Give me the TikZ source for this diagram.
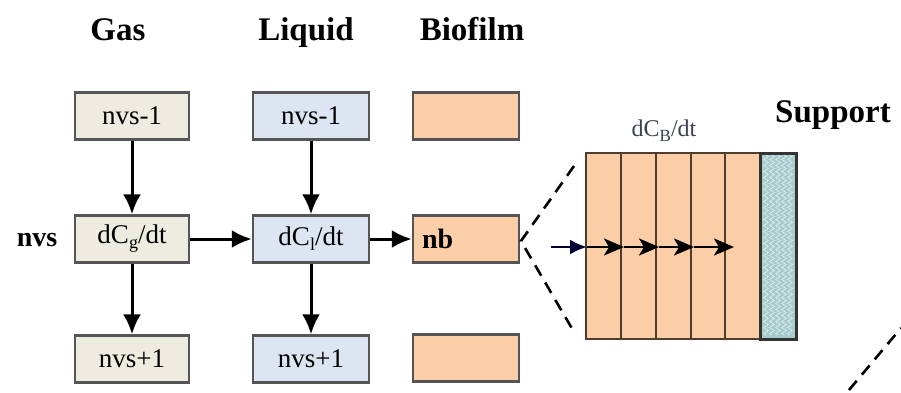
\documentclass[tikz,border=0pt]{standalone}
\usepackage{fontspec}
\setmainfont{Liberation Serif}
\usetikzlibrary{arrows.meta,decorations.pathmorphing}
\definecolor{gasfill}{RGB}{238,235,224}
\definecolor{liqfill}{RGB}{221,229,243}
\definecolor{biofill}{RGB}{251,206,168}
\definecolor{boxline}{RGB}{85,85,85}
\definecolor{layline}{RGB}{80,62,45}
\definecolor{supfill}{RGB}{168,204,206}
\definecolor{labcol}{RGB}{60,65,80}
\begin{document}
\begin{tikzpicture}[x=1pt,y=-1pt,
  box/.style={draw=boxline,line width=2.4pt,minimum height=47pt,inner sep=0pt,font=\fontsize{27}{30}\selectfont},
  gasbox/.style={box,fill=gasfill,minimum width=114pt},
  liqbox/.style={box,fill=liqfill,minimum width=116pt},
  biobox/.style={box,fill=biofill,minimum width=106pt},
  title/.style={font=\fontsize{33}{36}\selectfont\bfseries,anchor=base},
  arr/.style={-{Latex[length=20pt,width=18pt]},line width=3pt},
  larr/.style={-{Stealth[length=20pt,width=17pt,inset=5pt]},line width=2.6pt},
  zoomline/.style={dashed,dash pattern=on 12pt off 8pt,line width=2.6pt}]
\useasboundingbox (0,0) rectangle (901,393);
% titles
\node[title] (tgas) at (118,41) {Gas};
\node[title] (tliq) at (306,41) {Liquid};
\node[title] (tbio) at (472,41) {Biofilm};
\node[title] (tsup) at (833,122) {Support};
\node[font=\fontsize{28}{32}\selectfont\bfseries] (nvs) at (37,240) {nvs};
% gas column
\node[gasbox] (g1) at (132,116) {nvs-1};
\node[gasbox] (g2) at (132,239) {dC\raisebox{-5pt}{\fontsize{18}{20}\selectfont g}/dt};
\node[gasbox] (g3) at (132,359) {nvs+1};
% liquid column
\node[liqbox] (l1) at (311,116) {nvs-1};
\node[liqbox] (l2) at (311,239) {dC\raisebox{-5pt}{\fontsize{18}{20}\selectfont l}/dt};
\node[liqbox] (l3) at (311,359) {nvs+1};
% biofilm column
\node[biobox] (b1) at (466,116) {};
\node[biobox,font=\fontsize{28}{30}\selectfont\bfseries,text width=88pt,align=left] (b2) at (466,239) {nb};
\node[biobox] (b3) at (466,358) {};
% arrows
\draw[arr] (g1) -- (g2);
\draw[arr] (g2) -- (g3);
\draw[arr] (l1) -- (l2);
\draw[arr] (l2) -- (l3);
\draw[arr] (g2) -- (l2);
\draw[arr] (l2) -- (b2);
% biofilm layers
\foreach \i/\x in {1/585,2/620,3/655,4/690,5/724}{
  \node[draw=layline,fill=biofill,line width=2.2pt,minimum width=35pt,minimum height=186pt,inner sep=0pt,anchor=north west] (lay\i) at (\x,152) {};
}
\node[draw=black!80,fill=supfill,line width=2.6pt,minimum width=36pt,minimum height=186pt,inner sep=0pt,anchor=north west] (sup) at (759,152) {};
\foreach \xx in {766,772,778,784,790}{
  \draw[white,opacity=0.55,line width=0.8pt,decorate,decoration={zigzag,segment length=6pt,amplitude=2.2pt}] (\xx,155) -- (\xx,335);
}
\node[font=\fontsize{24}{28}\selectfont,text=labcol] (dcb) at (664,131) {dC\raisebox{-5pt}{\fontsize{17}{20}\selectfont B}/dt};
% zoom lines
\coordinate (v) at (521,241);
\coordinate (zt) at (574,166);
\coordinate (zb) at (574,332);
\draw[zoomline] (zt) -- (v) -- (zb);
\coordinate (e1) at (849,390);
\coordinate (e2) at (901,328);
\draw[zoomline] (e1) -- (e2);
% diffusion arrows
\coordinate (a0) at (551,247);
\coordinate (a1) at (587,247);
\coordinate (a2) at (624,247);
\coordinate (a3) at (659,247);
\coordinate (a4) at (694,247);
\coordinate (a5) at (734,247);
\draw[-{Latex[length=17pt,width=15pt]},line width=2.6pt,draw=black!80!blue,fill=black!80!blue] (a0) -- (a1);
\draw[larr] (a1) -- (a2);
\draw[larr] (a2) -- (a3);
\draw[larr] (a3) -- (a4);
\draw[larr] (a4) -- (a5);
\end{tikzpicture}
\end{document}
